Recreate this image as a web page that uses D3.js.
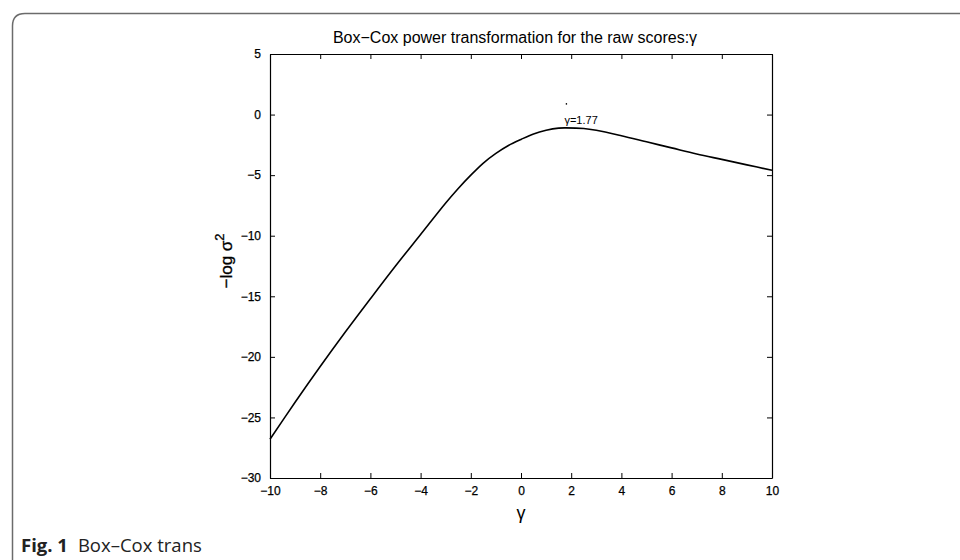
<!DOCTYPE html>
<html>
<head>
<meta charset="utf-8">
<script src="https://cdn.jsdelivr.net/npm/d3@7"></script>
<style>
  body { margin: 0; background: #fff; }
  svg text { font-family: "Liberation Sans", Arial, sans-serif; }
</style>
</head>
<body>
<svg id="chart" width="960" height="560"></svg>
<script>
// curve: gamma vs -log sigma^2
const gammaVals = [-10, -9, -8, -7, -6, -5, -4, -3, -2.5, -2, -1.5, -1, -0.5, 0, 0.5, 1, 1.5, 1.77, 2.5, 3, 4, 5, 6, 7, 8, 9, 10];
const logVals = [-26.8, -23.75, -20.8, -17.95, -15.2, -12.5, -9.9, -7.3, -6.1, -5.0, -4.0, -3.2, -2.55, -2.05, -1.6, -1.3, -1.12, -1.1, -1.15, -1.3, -1.75, -2.25, -2.75, -3.25, -3.7, -4.15, -4.6];
const xTicks = [-10, -8, -6, -4, -2, 0, 2, 4, 6, 8, 10];
const yTicks = [5, 0, -5, -10, -15, -20, -25, -30];
const peak = { g: 1.77, v: -1.1 };

const svg = d3.select("#chart");

// figure frame (rounded top-left corner, runs off the page)
svg.append("path")
  .attr("d", "M12.5,560 L12.5,26 Q12.5,13.5 25,13.5 L960,13.5")
  .attr("fill", "none")
  .attr("stroke", "#6b6b6b")
  .attr("stroke-width", 1.5);

const pLeft = 270, pRight = 772, pTop = 54, pBottom = 478;
const x = d3.scaleLinear().domain([-10, 10]).range([pLeft, pRight]);
const y = d3.scaleLinear().domain([-30, 5]).range([pBottom, pTop]);

const g = svg.append("g");

// box axes, ticks inward
g.append("g").attr("transform", `translate(0,${pBottom})`)
  .call(d3.axisBottom(x).tickValues(xTicks).tickSizeInner(-5).tickSizeOuter(0).tickPadding(8)
    .tickFormat(d => d < 0 ? "\u2212" + Math.abs(d) : d));
g.append("g").attr("transform", `translate(0,${pTop})`)
  .call(d3.axisTop(x).tickValues(xTicks).tickSizeInner(-5).tickSizeOuter(0).tickFormat(""));
g.append("g").attr("transform", `translate(${pLeft},0)`)
  .call(d3.axisLeft(y).tickValues(yTicks).tickSizeInner(-5).tickSizeOuter(0).tickPadding(9)
    .tickFormat(d => d < 0 ? "\u2212" + Math.abs(d) : d));
g.append("g").attr("transform", `translate(${pRight},0)`)
  .call(d3.axisRight(y).tickValues(yTicks).tickSizeInner(-5).tickSizeOuter(0).tickFormat(""));

g.selectAll(".domain").attr("stroke", "#000").attr("stroke-width", 1.2);
g.selectAll(".tick line").attr("stroke", "#000");
g.selectAll(".tick text").attr("fill", "#000")
  .style("font-size", "12px").attr("stroke", "#000").attr("stroke-width", 0.25);

// curve
const pts = gammaVals.map((d, i) => [d, logVals[i]]);
g.append("path")
  .datum(pts)
  .attr("fill", "none")
  .attr("stroke", "#000")
  .attr("stroke-width", 1.6)
  .attr("d", d3.line().x(d => x(d[0])).y(d => y(d[1])).curve(d3.curveCatmullRom.alpha(0.5)));

// peak annotation
g.append("circle").attr("cx", x(peak.g) + 1).attr("cy", y(peak.v) - 24).attr("r", 0.8).attr("fill", "#000");
g.append("text")
  .attr("x", x(peak.g) - 1)
  .attr("y", y(peak.v) - 4)
  .style("font-size", "11px")
  .text("\u03b3=" + peak.g);

// title
svg.append("text")
  .attr("x", (pLeft + pRight) / 2 - 6)
  .attr("y", 43)
  .attr("text-anchor", "middle")
  .style("font-size", "16px")
  .text("Box\u2212Cox power transformation for the raw scores:\u03b3");

// axis labels
svg.append("text")
  .attr("x", (pLeft + pRight) / 2)
  .attr("y", 519)
  .attr("text-anchor", "middle")
  .style("font-size", "18px")
  .text("\u03b3");

const yl = svg.append("text")
  .attr("transform", `translate(232,${(pTop + pBottom) / 2 - 5}) rotate(-90)`)
  .attr("text-anchor", "middle")
  .attr("stroke", "#000").attr("stroke-width", 0.3)
  .style("font-size", "17px");
yl.append("tspan").text("\u2212log \u03c3");
yl.append("tspan").attr("dy", -8).style("font-size", "13px").text("2");

// caption
const cap = svg.append("text")
  .attr("x", 21)
  .attr("y", 552)
  .attr("fill", "#222")
  .style("font-family", "'Open Sans', 'Noto Sans', sans-serif")
  .style("font-size", "18.5px");
cap.append("tspan").style("font-weight", "bold").text("Fig. 1");
cap.append("tspan").attr("dx", 10).text("Box\u2013Cox trans");
</script>
</body>
</html>
